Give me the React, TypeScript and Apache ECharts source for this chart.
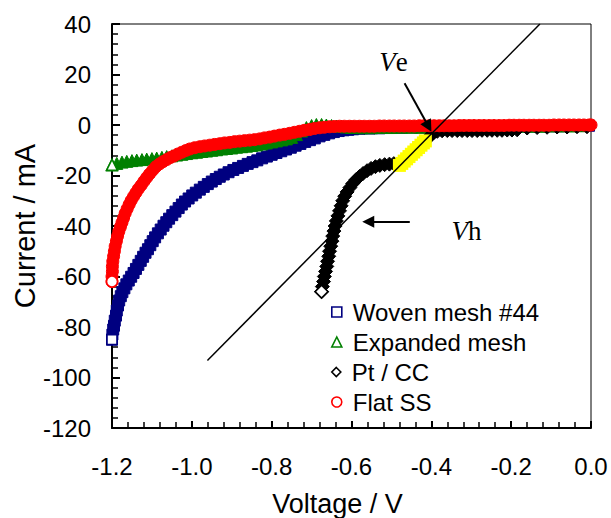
import { useEffect, useRef } from "react";
import * as echarts from "echarts";

// Canvas size
const WIDTH = 611;
const HEIGHT = 518;

// Axis ranges and tick steps
const X_MIN = -1.2;
const X_MAX = 0.0;
const X_STEP = 0.2;
const Y_MIN = -120;
const Y_MAX = 40;
const Y_STEP = 20;

const seriesNames = ["Woven mesh #44", "Expanded mesh", "Pt / CC", "Flat SS"];

// Voltage (V), current (mA)
const wovenMesh: [number, number][] = [
  [-1.2, -85.0], [-1.199, -83.0], [-1.197, -81.0], [-1.195, -79.5], [-1.193, -77.5], [-1.19, -75.5],
  [-1.188, -73.5], [-1.185, -71.5], [-1.182, -69.5], [-1.178, -67.8], [-1.174, -66.2], [-1.169, -64.7],
  [-1.164, -63.1], [-1.158, -61.6], [-1.152, -60.1], [-1.146, -58.6], [-1.14, -57.0], [-1.134, -55.4],
  [-1.128, -53.8], [-1.122, -52.2], [-1.116, -50.6], [-1.11, -49.2], [-1.104, -47.6], [-1.098, -46.0],
  [-1.092, -44.5], [-1.085, -42.9], [-1.078, -41.4], [-1.071, -39.9], [-1.064, -38.5], [-1.057, -37.1],
  [-1.049, -35.7], [-1.041, -34.3], [-1.033, -32.9], [-1.025, -31.5], [-1.017, -30.3], [-1.008, -29.1],
  [-0.999, -27.9], [-0.99, -26.8], [-0.98, -25.6], [-0.97, -24.5], [-0.96, -23.4], [-0.95, -22.4],
  [-0.94, -21.4], [-0.93, -20.5], [-0.92, -19.6], [-0.908, -18.7], [-0.896, -17.8], [-0.884, -17.0],
  [-0.872, -16.2], [-0.86, -15.4], [-0.848, -14.7], [-0.836, -14.0], [-0.824, -13.2], [-0.812, -12.5],
  [-0.8, -11.8], [-0.788, -11.1], [-0.776, -10.4], [-0.764, -9.7], [-0.752, -9.0], [-0.74, -8.2],
  [-0.728, -7.5], [-0.716, -6.7], [-0.704, -6.0], [-0.692, -5.3], [-0.68, -4.5], [-0.668, -3.9],
  [-0.656, -3.3], [-0.644, -2.8], [-0.632, -2.4], [-0.62, -2.1], [-0.608, -1.9], [-0.596, -1.7],
  [-0.58, -1.5], [-0.555, -1.4], [-0.53, -1.3], [-0.505, -1.2], [-0.48, -1.1], [-0.455, -1.0],
  [-0.43, -1.0], [-0.405, -0.9], [-0.38, -0.9], [-0.355, -0.8], [-0.33, -0.8], [-0.305, -0.8],
  [-0.28, -0.7], [-0.255, -0.7], [-0.23, -0.7], [-0.205, -0.6], [-0.18, -0.6], [-0.155, -0.6],
  [-0.13, -0.5], [-0.105, -0.5], [-0.08, -0.5], [-0.055, -0.4], [-0.03, -0.4], [-0.005, -0.3],
];

const expandedMesh: [number, number][] = [
  [-1.2, -15.8], [-1.188, -15.2], [-1.175, -14.7], [-1.163, -14.4], [-1.15, -14.1], [-1.138, -13.9],
  [-1.125, -13.7], [-1.113, -13.5], [-1.1, -13.3], [-1.088, -13.1], [-1.075, -12.8], [-1.063, -12.5],
  [-1.05, -12.2], [-1.038, -11.9], [-1.025, -11.6], [-1.013, -11.3], [-1.0, -11.0], [-0.988, -10.8],
  [-0.975, -10.5], [-0.963, -10.3], [-0.95, -10.0], [-0.938, -9.8], [-0.925, -9.5], [-0.913, -9.3],
  [-0.9, -9.1], [-0.888, -8.8], [-0.875, -8.6], [-0.863, -8.4], [-0.85, -8.1], [-0.838, -7.9],
  [-0.825, -7.5], [-0.813, -7.1], [-0.8, -6.7], [-0.788, -6.3], [-0.775, -5.9], [-0.763, -5.5],
  [-0.75, -4.9], [-0.738, -3.8], [-0.725, -2.4], [-0.713, -1.0], [-0.7, -0.2], [-0.688, 0.2],
  [-0.675, 0.2], [-0.663, 0.0], [-0.65, -0.2], [-0.638, -0.4], [-0.625, -0.6], [-0.613, -0.8],
  [-0.6, -1.0], [-0.575, -1.1], [-0.55, -1.1], [-0.525, -1.0], [-0.5, -1.0], [-0.475, -0.9],
  [-0.45, -0.9], [-0.425, -0.9], [-0.4, -0.8], [-0.375, -0.8], [-0.35, -0.8], [-0.325, -0.7],
  [-0.3, -0.7], [-0.275, -0.7], [-0.25, -0.6], [-0.225, -0.6], [-0.2, -0.6], [-0.175, -0.5],
  [-0.15, -0.5], [-0.125, -0.5], [-0.1, -0.4], [-0.075, -0.4], [-0.05, -0.4], [-0.025, -0.3],
];

const ptCC: [number, number][] = [
  [-0.675, -66.0], [-0.673, -64.0], [-0.67, -62.0], [-0.668, -60.0], [-0.665, -58.0], [-0.662, -56.0],
  [-0.66, -54.0], [-0.657, -52.0], [-0.655, -50.0], [-0.652, -48.0], [-0.649, -46.0], [-0.647, -44.0],
  [-0.644, -42.0], [-0.641, -40.0], [-0.638, -38.0], [-0.634, -36.0], [-0.63, -34.0], [-0.626, -32.0],
  [-0.622, -30.0], [-0.617, -28.2], [-0.611, -26.5], [-0.604, -24.8], [-0.597, -23.2], [-0.589, -21.7],
  [-0.58, -20.4], [-0.571, -19.2], [-0.561, -18.1], [-0.551, -17.2], [-0.54, -16.5], [-0.529, -16.0],
  [-0.517, -15.7], [-0.505, -15.5], [-0.494, -15.3], [-0.405, -4.8], [-0.4, -3.8], [-0.394, -3.0],
  [-0.385, -2.5], [-0.373, -2.3], [-0.36, -2.2], [-0.348, -2.2], [-0.335, -2.2], [-0.323, -2.2],
  [-0.31, -2.2], [-0.298, -2.2], [-0.285, -2.2], [-0.273, -2.1], [-0.26, -2.1], [-0.248, -2.1],
  [-0.235, -2.1], [-0.223, -2.1], [-0.21, -2.0], [-0.198, -2.0], [-0.185, -1.9], [-0.16, -1.2],
  [-0.135, -1.0], [-0.11, -0.9], [-0.085, -0.8], [-0.06, -0.8], [-0.035, -0.7], [-0.01, -0.7],
];

// Pt / CC points highlighted in yellow (range used for the straight-line fit)
const ptCCFitRange: [number, number][] = [
  [-0.48, -16.0], [-0.474, -15.2], [-0.468, -14.3], [-0.462, -13.4], [-0.456, -12.5], [-0.45, -11.6],
  [-0.444, -10.7], [-0.438, -9.8], [-0.432, -8.9], [-0.426, -8.0], [-0.42, -7.1], [-0.415, -6.3],
];

const flatSS: [number, number][] = [
  [-1.2, -62.0], [-1.2, -60.0], [-1.199, -58.0], [-1.199, -56.0], [-1.198, -54.0], [-1.196, -52.0],
  [-1.194, -50.0], [-1.192, -48.0], [-1.189, -46.0], [-1.186, -44.0], [-1.183, -42.2], [-1.179, -40.4],
  [-1.175, -38.6], [-1.171, -36.8], [-1.167, -35.0], [-1.162, -33.2], [-1.157, -31.5], [-1.152, -29.9],
  [-1.146, -28.3], [-1.14, -26.8], [-1.134, -25.3], [-1.127, -23.9], [-1.12, -22.3], [-1.113, -20.8],
  [-1.106, -19.4], [-1.098, -17.9], [-1.09, -16.5], [-1.081, -15.4], [-1.072, -14.5], [-1.063, -13.7],
  [-1.054, -12.9], [-1.045, -12.3], [-1.035, -11.5], [-1.025, -10.8], [-1.015, -10.1], [-1.005, -9.5],
  [-0.993, -9.0], [-0.98, -8.6], [-0.968, -8.3], [-0.955, -8.0], [-0.943, -7.7], [-0.93, -7.4],
  [-0.918, -7.1], [-0.905, -6.9], [-0.893, -6.6], [-0.88, -6.4], [-0.868, -6.2], [-0.855, -6.0],
  [-0.843, -5.8], [-0.83, -5.5], [-0.818, -5.1], [-0.805, -4.8], [-0.793, -4.4], [-0.78, -4.0],
  [-0.768, -3.7], [-0.755, -3.3], [-0.743, -2.9], [-0.73, -2.5], [-0.718, -2.1], [-0.705, -1.8],
  [-0.693, -1.4], [-0.68, -1.1], [-0.668, -0.9], [-0.655, -0.7], [-0.643, -0.6], [-0.63, -0.5],
  [-0.618, -0.5], [-0.605, -0.5], [-0.593, -0.5], [-0.58, -0.5], [-0.568, -0.5], [-0.555, -0.5],
  [-0.543, -0.5], [-0.53, -0.4], [-0.518, -0.4], [-0.505, -0.4], [-0.493, -0.4], [-0.48, -0.4],
  [-0.468, -0.4], [-0.455, -0.4], [-0.443, -0.4], [-0.43, -0.3], [-0.418, -0.3], [-0.405, -0.3],
  [-0.393, -0.3], [-0.38, -0.3], [-0.368, -0.3], [-0.355, -0.3], [-0.343, -0.3], [-0.33, -0.2],
  [-0.318, -0.2], [-0.305, -0.2], [-0.293, -0.2], [-0.28, -0.2], [-0.268, -0.2], [-0.255, -0.2],
  [-0.243, -0.2], [-0.23, -0.2], [-0.218, -0.2], [-0.205, -0.1], [-0.193, -0.1], [-0.18, -0.1],
  [-0.168, -0.1], [-0.155, -0.1], [-0.143, -0.1], [-0.13, -0.1], [-0.118, -0.1], [-0.105, -0.1],
  [-0.093, 0.0], [-0.08, 0.0], [-0.068, 0.0], [-0.055, 0.0], [-0.043, 0.0], [-0.03, 0.0],
  [-0.018, 0.0], [-0.005, 0.0], [0.0, 0.0],
];

// Straight line drawn through the Pt / CC fit range
const fitLine: [number, number][] = [
  [-0.961, -93.3],
  [-0.128, 40.0],
];

// Annotation anchors (V, mA)
const veArrow: [number, number][] = [[-0.467, 16.5], [-0.407, -0.6]];
const vhArrow: [number, number][] = [[-0.454, -38.3], [-0.558, -38.3]];
const veLabel: [number, number] = [-0.4947, 25.1];
const vhLabel: [number, number] = [-0.312, -42.0];
// zero line starts a little left of the y axis, like a crossing tick
const zeroLine: [number, number][] = [[-1.216, 0], [0, 0]];

const colors = ["#000080", "#008000", "#000000", "#FF0000"];
const symbols = ["rect", "triangle", "diamond", "circle"];
const sizes = [11, 12, 14, 12];
const legendSizes = [10, 10, 9, 10];
const SANS = "'Liberation Sans', Arial, sans-serif";
const SERIF = "'Liberation Serif', 'Times New Roman', serif";

function bandSeries(i: number, data: [number, number][]) {
  return [
    {
      name: seriesNames[i],
      type: "scatter",
      data,
      symbol: symbols[i],
      symbolSize: sizes[i],
      itemStyle: { color: colors[i], borderColor: colors[i], borderWidth: 1, opacity: 1 },
      silent: true,
      z: 3,
    },
    {
      // open marker at the end of the sweep
      name: seriesNames[i],
      type: "scatter",
      data: [data[0]],
      symbol: symbols[i],
      symbolSize: sizes[i] - 1,
      itemStyle: { color: "#ffffff", borderColor: colors[i], borderWidth: 1.6, opacity: 1 },
      silent: true,
      z: 3,
    },
  ];
}

function buildOption() {
  return {
    animation: false,
    backgroundColor: "#ffffff",
    grid: {
      left: 112,
      right: 20,
      top: 24,
      bottom: 90,
      containLabel: false,
      outerBoundsMode: "none",
      show: true,
      borderColor: "#000",
      borderWidth: 1,
      backgroundColor: "transparent",
    },
    legend: seriesNames.map((name, i) => ({
      orient: "vertical",
      left: 331,
      top: 300 + i * 30,
      padding: 0,
      itemWidth: legendSizes[i],
      itemHeight: legendSizes[i],
      selectedMode: false,
      textStyle: {
        fontSize: 24,
        fontFamily: SANS,
        color: "#000",
        lineHeight: 24,
        padding: [0, 0, 0, 6],
      },
      data: [
        {
          name,
          icon: symbols[i],
          itemStyle: { color: "#ffffff", borderColor: colors[i], borderWidth: 1.6 },
        },
      ],
    })),
    xAxis: {
      type: "value",
      min: X_MIN,
      max: X_MAX,
      interval: X_STEP,
      name: "Voltage / V",
      nameLocation: "middle",
      nameGap: 62,
      nameMoveOverlap: false,
      nameTextStyle: { fontSize: 27, fontFamily: SANS, color: "#000", padding: [0, 28, 0, 0] },
      axisLine: { onZero: false, lineStyle: { color: "#000", width: 2 } },
      axisTick: { inside: true, length: 7, lineStyle: { color: "#000", width: 2 } },
      minorTick: { show: true, splitNumber: 5, length: 6, lineStyle: { color: "#000", width: 1.5 } },
      axisLabel: {
        fontSize: 24,
        fontFamily: SANS,
        color: "#000",
        margin: 26,
        formatter: (v: number) => v.toFixed(1),
      },
      splitLine: { show: false },
    },
    yAxis: {
      type: "value",
      min: Y_MIN,
      max: Y_MAX,
      interval: Y_STEP,
      name: "Current / mA",
      nameLocation: "middle",
      nameGap: 73,
      nameMoveOverlap: false,
      nameTextStyle: { fontSize: 29, fontFamily: SANS, color: "#000" },
      axisLine: { onZero: false, lineStyle: { color: "#000", width: 2 } },
      axisTick: { inside: true, length: 8, lineStyle: { color: "#000", width: 2 } },
      minorTick: { show: true, splitNumber: 5, length: 6, lineStyle: { color: "#000", width: 1.5 } },
      axisLabel: { fontSize: 24, fontFamily: SANS, color: "#000", margin: 21 },
      splitLine: { show: false },
    },
    series: [
      {
        // zero-current line
        name: "zero",
        type: "line",
        data: [],
        z: 1,
        silent: true,
        markLine: {
          silent: true,
          symbol: ["none", "none"],
          label: { show: false },
          lineStyle: { color: "#000", width: 2, type: "solid" },
          data: [[{ coord: zeroLine[0] }, { coord: zeroLine[1] }]],
        },
      },
      ...bandSeries(0, wovenMesh),
      ...bandSeries(1, expandedMesh),
      ...bandSeries(2, ptCC),
      {
        name: "fit range",
        type: "scatter",
        data: ptCCFitRange,
        symbol: "rect",
        symbolSize: 13,
        itemStyle: { color: "#FFFF00", opacity: 1 },
        silent: true,
        z: 3,
      },
      ...bandSeries(3, flatSS),
      {
        name: "fit line",
        type: "line",
        data: fitLine,
        symbol: "none",
        silent: true,
        z: 10,
        lineStyle: { color: "#000", width: 1.5 },
        markLine: {
          silent: true,
          symbol: ["none", "triangle"],
          symbolSize: 12,
          label: { show: false },
          lineStyle: { color: "#000", width: 2, type: "solid" },
          data: [
            [{ coord: veArrow[0] }, { coord: veArrow[1] }],
            [{ coord: vhArrow[0] }, { coord: vhArrow[1] }],
          ],
        },
        markPoint: {
          silent: true,
          symbol: "circle",
          symbolSize: 1,
          itemStyle: { color: "transparent" },
          label: {
            show: true,
            position: "inside",
            color: "#000",
            rich: {
              v: { fontSize: 27, fontFamily: SERIF, fontStyle: "italic", color: "#000" },
              s: { fontSize: 27, fontFamily: SERIF, color: "#000" },
            },
          },
          data: [
            { coord: veLabel, label: { formatter: "{v|V}{s|e}" } },
            { coord: vhLabel, label: { formatter: "{v|V}{s|h}" } },
          ],
        },
      },
    ],
  };
}

export default function App() {
  const ref = useRef<HTMLDivElement>(null);
  useEffect(() => {
    if (!ref.current) return;
    const chart = echarts.init(ref.current, undefined, {
      renderer: "svg",
      width: WIDTH,
      height: HEIGHT,
    });
    chart.setOption(buildOption() as any);
    return () => chart.dispose();
  }, []);
  return (
    <div
      ref={ref}
      style={{
        position: "fixed",
        left: 0,
        top: 0,
        width: WIDTH,
        height: HEIGHT,
        background: "#fff",
      }}
    />
  );
}
